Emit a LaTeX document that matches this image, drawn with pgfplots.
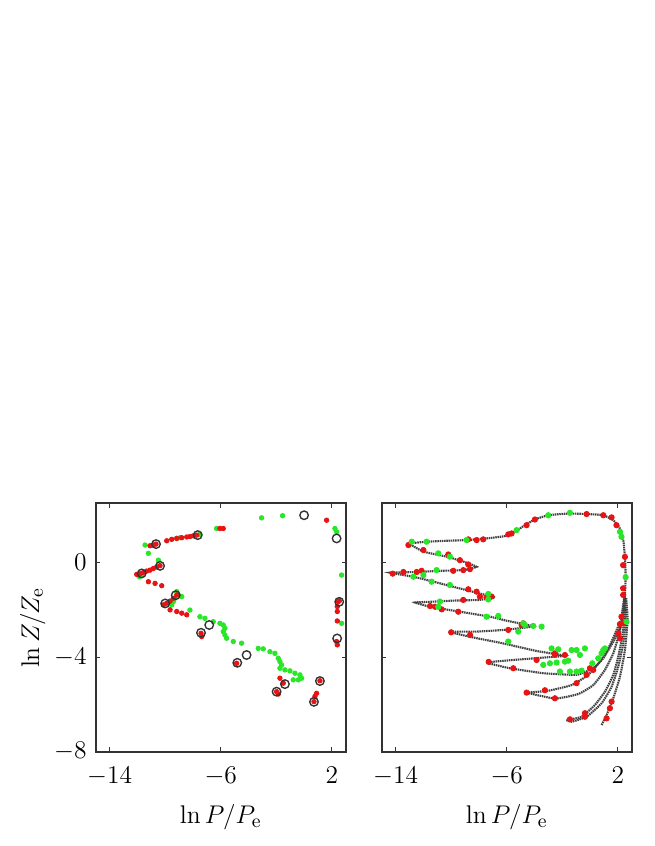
\documentclass[border=0pt]{standalone}
\usepackage{pgfplots}
\pgfplotsset{compat=1.18}
\definecolor{myred}{RGB}{230,20,20}
\definecolor{mygreen}{RGB}{40,230,40}
\begin{document}
\begin{tikzpicture}
\path[use as bounding box] (-45.0pt,-44.3pt) rectangle (262.4pt,353.3pt);
\pgfplotsset{
 myaxis/.style={scale only axis, width=117.5pt, height=116.7pt,
  xmin=-15, xmax=3, ymin=-8, ymax=2.5,
  xtick={-14,-6,2}, ytick={-8,-4,0},
  axis line style={black!80, line width=0.9pt},
  major tick length=2pt, tick style={black!80, line width=0.5pt},
  ticklabel style={font=\fontsize{11.5}{13}\selectfont},
  label style={font=\fontsize{12.5}{15}\selectfont},
  xticklabel style={yshift=-3.8pt}, yticklabel style={xshift=-0.8pt},
  xlabel={$\ln P/P_{\mathrm{e}}$},
  xlabel style={at={(axis description cs:0.5,-0.262)}, anchor=center},
  anchor=south west},
 blk/.style={black!75, line width=1.0pt, dash pattern=on 0.7pt off 0.35pt, smooth, tension=0.3},
 rdot/.style={only marks, mark=*, color=myred, mark size=#1},
 gdot/.style={only marks, mark=*, color=mygreen, mark size=#1},
}
% ---------------- left panel ----------------
\begin{axis}[myaxis, at={(0pt,0pt)},
  ylabel={$\ln Z/Z_{\mathrm{e}}$},
  ylabel style={at={(axis description cs:-0.252,0.5)}, anchor=center}]
\addplot[gdot=1.05pt] coordinates {
(-3.06,1.89) (-1.55,1.98) (-6.3,1.44) (2.22,1.44) (2.34,1.3)
(-9.17,1.02) (-8.93,1.05) (-7.49,1.19) (-11.45,0.74) (-11.21,0.39) (-10.49,0.1)
(-11.86,-0.6) (-11.69,-0.53) (2.7,-0.53) (2.7,-2.57)
(-9.17,-1.23) (-9.05,-1.37) (-8.81,-1.44) (-9.29,-1.51) (-9.41,-1.65) (-9.53,-1.79)
(-8.22,-2.01) (-7.5,-2.29) (-7.14,-2.36) (-6.54,-2.5) (-6.06,-2.57) (-5.82,-2.64)
(-5.7,-2.78) (-5.82,-2.92) (-5.7,-3.06) (-5.58,-3.2) (-5.1,-3.34) (-4.5,-3.41)
(-3.3,-3.63) (-2.94,-3.65) (-2.46,-3.77) (-2.1,-3.84) (-1.86,-4.05) (-1.74,-4.19)
(-1.62,-4.33) (-1.74,-4.47) (-1.38,-4.54) (-1.02,-4.58) (-0.66,-4.68) (-0.3,-4.75)
(-0.18,-4.89) (-0.42,-4.96) (-0.78,-4.96)
};
\addplot[rdot=1.05pt] coordinates {
(1.62,1.79) (-5.82,1.44) (-6.06,1.44)
(-9.89,0.92) (-9.53,0.98) (-9.17,1.02) (-8.81,1.05) (-8.45,1.08) (-8.21,1.10) (-7.97,1.13) (-7.73,1.16)
(-11.09,0.71) (-10.85,0.74) (-10.66,0.78)
(-10.37,-0.13) (-10.61,-0.18) (-10.85,-0.25) (-11.09,-0.32) (-11.33,-0.36) (-11.57,-0.42) (-11.81,-0.47) (-12.05,-0.50)
(-11.21,-0.81) (-10.73,-0.88) (-10.25,-0.98)
(-9.17,-1.37) (-9.41,-1.51) (-9.65,-1.63) (-9.89,-1.72) (-10.13,-1.79)
(-9.65,-2.0) (-9.17,-2.07) (-8.81,-2.14) (-8.45,-2.21)
(-7.42,-2.99) (-7.37,-3.13) (-4.86,-4.26)
(-1.74,-4.89) (-1.5,-5.1) (-1.98,-5.46) (-1.86,-5.56)
(1.14,-5.0) (0.9,-5.53) (0.78,-5.66) (0.71,-5.88)
(2.46,-1.65) (2.53,-1.62) (2.39,-1.86) (2.39,-2.07) (2.39,-2.47) (2.34,-3.34) (2.39,-3.48)
};
\addplot[only marks, mark=o, mark size=2.0pt, black!80, mark options={line width=0.65pt}] coordinates {
(0.0,2.0) (2.34,1.02) (-7.66,1.16) (-10.66,0.78) (-10.37,-0.14) (-11.69,-0.46)
(-9.24,-1.38) (-10.0,-1.73) (-6.83,-2.64) (-7.42,-2.97) (-4.14,-3.91) (-4.81,-4.24)
(-1.38,-5.14) (-1.98,-5.46) (1.14,-5.01) (0.71,-5.89) (2.53,-1.66) (2.38,-3.21)
};
\end{axis}
% ---------------- right panel ----------------
\begin{axis}[myaxis, at={(134.4pt,0pt)}, yticklabels={}]
% top arm
\addplot[blk] coordinates {(-13.08,0.81) (-11.76,0.88) (-10.33,0.92) (-8.88,0.95) (-7.45,1.02) (-6.0,1.13) (-5.41,1.30) (-4.69,1.58) (-3.97,1.82) (-3.01,2.0) (-1.57,2.07) (-0.13,2.05) (0.95,2.0) (1.67,1.79) (2.15,1.44) (2.39,0.95) (2.51,0.24) (2.56,-0.62) (2.5,-1.58) (2.55,-2.43)};
% zigzag
\addplot[blk, tension=0.2] coordinates {(-13.08,0.81) (-12.0,0.46) (-10.33,0.25) (-9.12,0.04) (-8.17,-0.18) (-9.12,-0.32) (-10.8,-0.35) (-12.48,-0.40) (-14.4,-0.43) (-12.72,-0.60) (-10.8,-0.88) (-8.89,-1.17) (-7.45,-1.38) (-6.85,-1.47) (-7.93,-1.58) (-9.85,-1.61) (-11.52,-1.66) (-12.6,-1.69) (-11.52,-1.87) (-9.36,-2.08) (-7.2,-2.29) (-6.0,-2.46) (-4.1,-2.7) (-6.25,-2.85) (-8.16,-2.92) (-10.09,-2.93) (-8.65,-3.14) (-6.25,-3.42) (-3.85,-3.74) (-1.81,-3.94) (-3.37,-4.02) (-5.53,-4.12) (-7.45,-4.23) (-5.77,-4.47) (-3.37,-4.68) (-0.97,-4.75) (0.23,-4.47) (0.95,-4.05) (1.67,-3.35) (2.15,-2.78) (2.44,-1.94) (2.5,-1.3)};
% fan branches
\addplot[blk] coordinates {(-4.57,-5.5) (-3.01,-5.42) (-1.33,-5.18) (-0.13,-4.75) (0.71,-4.19) (1.43,-3.49) (1.91,-2.85) (2.22,-2.43) (2.45,-1.5)};
\addplot[blk] coordinates {(-4.57,-5.5) (-2.53,-5.75) (-0.85,-5.56) (0.23,-5.18) (1.07,-4.54) (1.67,-3.84) (2.03,-3.14) (2.32,-2.43) (2.48,-1.5)};
\addplot[blk] coordinates {(-1.69,-6.66) (-0.61,-6.52) (0.35,-6.02) (1.07,-5.46) (1.67,-4.75) (2.03,-3.98) (2.27,-3.27) (2.46,-2.43) (2.52,-1.5)};
\addplot[blk] coordinates {(-1.69,-6.66) (-1.33,-6.73) (-0.25,-6.52) (0.83,-5.95) (1.55,-5.25) (2.03,-4.4) (2.39,-3.42) (2.56,-2.43) (2.55,-1.5)};
\addplot[blk] coordinates {(0.83,-6.87) (1.19,-6.45) (1.67,-5.74) (2.15,-4.83) (2.51,-3.7) (2.7,-2.43) (2.6,-1.5)};
% red dots
\addplot[rdot=1.25pt] coordinates {
(-13.08,0.74) (-12.0,0.53) (-10.21,0.34) (-9.37,0.1) (-8.77,-0.08) (-8.65,-0.28) (-9.13,-0.32) (-9.85,-0.35)
(-12.13,-0.35) (-12.48,-0.40) (-13.44,-0.40) (-14.21,-0.47) (-8.77,-1.13) (-8.17,-1.23) (-7.93,-1.44)
(-7.45,-1.47) (-7.09,-1.44) (-9.13,-1.58) (-11.52,-1.84) (-11.16,-1.87) (-10.68,-1.98) (-9.49,-2.08)
(-8.77,0.98) (-8.17,0.95) (-7.69,0.98) (-5.89,1.19)
(-5.65,1.23) (-4.57,1.58) (-3.97,1.82) (-0.25,2.05) (0.95,2.0) (1.55,1.91) (1.9,1.58) (2.51,0.24)
(2.38,-0.11) (2.38,-1.09) (2.38,-1.37) (2.26,-2.29) (2.15,-2.6)
(-4.93,-2.64) (-5.89,-2.85) (-2.53,-3.84) (-1.81,-3.91) (-3.85,-4.12) (-5.53,-4.47) (-0.01,-4.47)
(0.23,-4.54) (-0.25,-4.75) (-0.97,-5.1) (-4.57,-5.5) (-3.25,-5.4) (-2.53,-5.74) (-1.45,-6.63)
(-0.37,-6.52) (-0.37,-6.37) (1.55,-5.88) (1.43,-6.16) (1.19,-6.59) (2.03,-2.99) (2.15,-3.2) (2.39,-2.57)
(-7.3,-4.2) (-2.53,-3.9) (-4.81,-2.57) (-8.64,-3.06) (-10.0,-2.95)
};
% green dots
\addplot[gdot=1.25pt] coordinates {
(-12.84,0.88) (-11.77,0.88) (-10.93,0.39) (-10.09,0.25) (-12.72,-0.6) (-11.05,-0.32) (-11.41,-0.81)
(-10.09,-0.95) (-7.33,-1.33) (-7.33,-1.56) (-10.81,-1.65) (-10.93,-1.87) (-7.45,-2.29) (-6.61,-2.26)
(-8.89,0.95) (-12.0,-0.53)
(-5.29,1.37) (-3.01,2.0) (-1.45,2.1) (2.15,1.30) (2.26,1.09) (2.56,-0.62) (-4.81,-2.57) (-4.09,-2.68)
(-4.69,-2.64) (-5.17,-2.92) (-3.49,-2.71) (-5.89,-3.34) (-2.77,-3.63) (-2.29,-3.67) (-1.33,-3.7)
(-0.97,-3.7) (-0.37,-3.63) (-0.73,-3.91) (-3.37,-4.33) (-2.89,-4.26) (-2.41,-4.23) (-1.81,-4.19)
(-1.57,-4.15) (-2.17,-4.61) (-1.45,-4.61) (-0.97,-4.61) (-0.61,-4.57) (0.83,-3.84) (0.95,-3.7)
(1.07,-3.63) (0.59,-4.05) (0.16,-4.26) (2.62,-2.5)
};
\end{axis}
\end{tikzpicture}
\end{document}
